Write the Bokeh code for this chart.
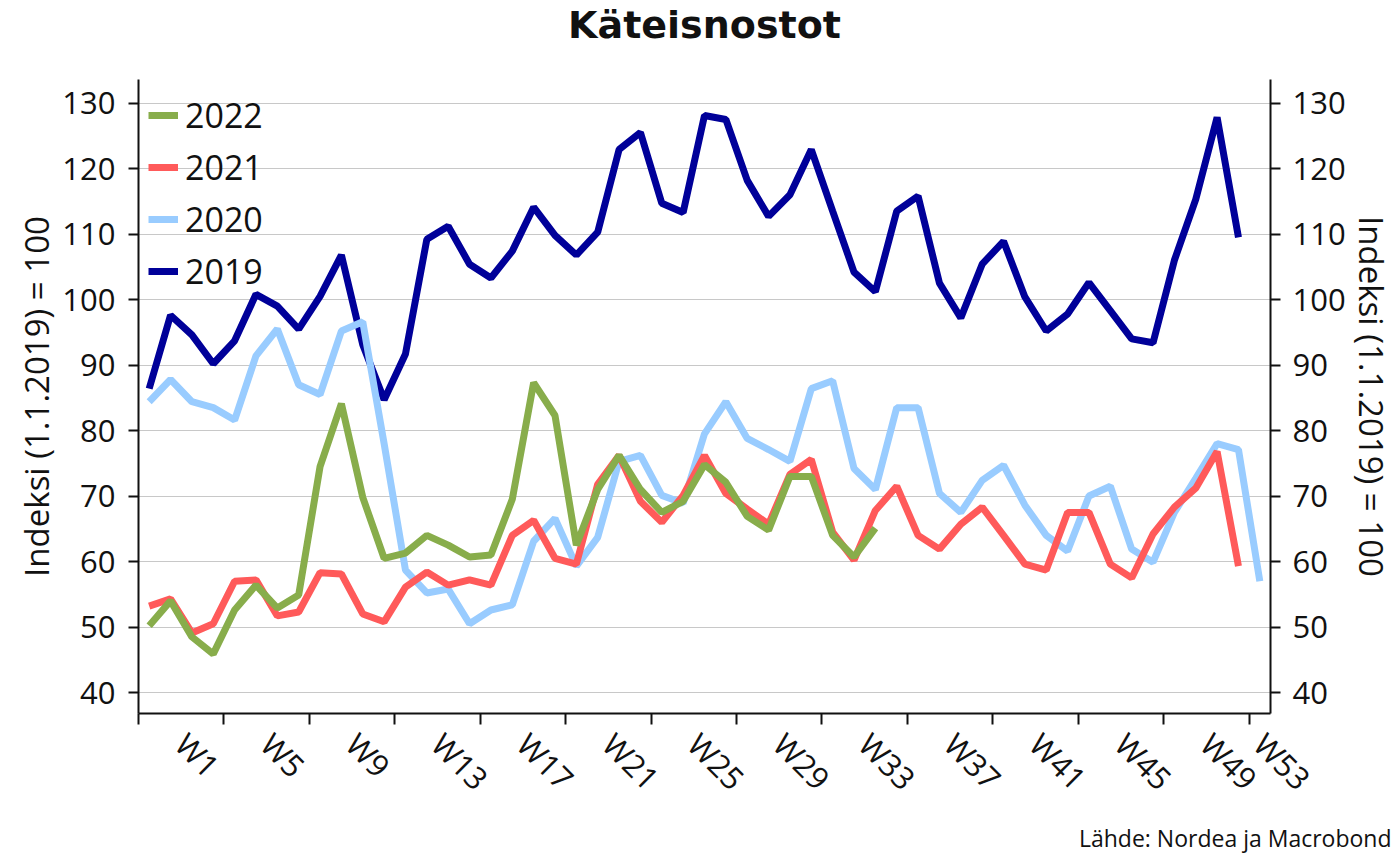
from bokeh.plotting import figure
from bokeh.models import Range1d, LinearAxis, FixedTicker, Legend, LegendItem, Title
from bokeh.embed import file_html
from bokeh.resources import INLINE

# ---- data (index, 1.1.2019 = 100), by ISO week ----
weeks_2019 = list(range(1, 53))
vals_2019 = [86.4, 97.6, 94.6, 90.2, 93.7, 100.8, 99.0, 95.5, 100.5, 106.8,
             93.1, 84.7, 91.7, 109.2, 111.2, 105.4, 103.3, 107.4, 114.1, 109.8,
             106.8, 110.3, 122.9, 125.5, 114.7, 113.3, 128.1, 127.5, 118.2, 112.7,
             116.0, 122.9, 113.5, 104.2, 101.2, 113.5, 115.8, 102.5, 97.2, 105.4,
             108.9, 100.4, 95.2, 97.8, 102.6, 98.3, 94.0, 93.4, 106.0, 115.3,
             127.8, 109.5]

weeks_2020 = list(range(1, 54))
vals_2020 = [84.4, 87.8, 84.4, 83.5, 81.6, 91.4, 95.5, 87.0, 85.5, 95.2,
             96.6, 78.0, 58.7, 55.2, 55.8, 50.5, 52.6, 53.4, 63.1, 66.6,
             59.3, 63.7, 75.3, 76.2, 70.1, 68.9, 79.5, 84.4, 78.8, 77.1,
             75.3, 86.4, 87.6, 74.2, 71.0, 83.5, 83.5, 70.4, 67.5, 72.4,
             74.7, 68.6, 64.0, 61.6, 70.0, 71.5, 61.9, 59.9, 67.5, 72.7,
             78.0, 77.1, 57.0]

weeks_2021 = list(range(1, 53))
vals_2021 = [53.2, 54.3, 49.1, 50.5, 57.0, 57.2, 51.7, 52.3, 58.3, 58.1,
             52.0, 50.8, 56.1, 58.4, 56.4, 57.2, 56.4, 64.0, 66.3, 60.5,
             59.6, 71.8, 76.2, 69.2, 66.0, 70.1, 76.2, 70.4, 68.0, 65.7,
             73.3, 75.6, 64.5, 60.2, 67.8, 71.5, 64.0, 61.9, 65.7, 68.3,
             64.0, 59.6, 58.7, 67.5, 67.5, 59.6, 57.5, 64.2, 68.3, 71.2,
             76.8, 59.3]

weeks_2022 = list(range(1, 36))
vals_2022 = [50.2, 54.0, 48.5, 45.9, 52.6, 56.4, 52.9, 54.9, 74.5, 84.1,
             69.8, 60.5, 61.3, 64.0, 62.5, 60.7, 61.0, 69.5, 87.3, 82.3,
             62.5, 71.0, 76.2, 71.0, 67.5, 69.2, 74.8, 72.1, 66.9, 64.8,
             73.0, 73.0, 64.0, 60.7, 65.1]

series_names = ["2019", "2020", "2021", "2022"]
series_colors = ["#000099", "#99CCFF", "#FF5A5A", "#88AD4B"]

y_ticks = [40, 50, 60, 70, 80, 90, 100, 110, 120, 130]
week_boundaries = [0.5 + 4 * k for k in range(14)]
week_label_pos = [2.5 + 4 * k for k in range(13)] + [53.0]
week_labels = ["W%d" % (1 + 4 * k) for k in range(14)]

title_text = "Käteisnostot"
source_text = "Lähde: Nordea ja Macrobond"
y_label = "Indeksi (1.1.2019) = 100"

FONT = "Open Sans"
TXT = "#111111"

p = figure(width=1397, height=856, x_range=Range1d(0.5, 53.5), y_range=Range1d(36.8, 133.6),
           output_backend="svg", toolbar_location=None,
           min_border_left=138, min_border_right=127, min_border_top=77, min_border_bottom=143)
p.outline_line_color = None
p.background_fill_color = "white"
p.border_fill_color = "white"

# grid
p.xgrid.visible = False
p.ygrid.grid_line_color = "#C8C8C8"
p.ygrid.grid_line_width = 1

# y axes
def style_y(ax, standoff, lab_standoff):
    ax.ticker = FixedTicker(ticks=y_ticks)
    ax.axis_label = y_label
    ax.axis_label_text_font = FONT
    ax.axis_label_text_font_size = "33px"
    ax.axis_label_text_font_style = "normal"
    ax.axis_label_text_color = TXT
    ax.axis_label_standoff = lab_standoff
    ax.major_label_text_font = FONT
    ax.major_label_text_font_size = "31px"
    ax.major_label_text_color = TXT
    ax.major_label_standoff = standoff
    ax.axis_line_color = "#111111"
    ax.axis_line_width = 2
    ax.major_tick_line_color = "#111111"
    ax.major_tick_line_width = 2
    ax.major_tick_out = 10
    ax.major_tick_in = 0
    ax.minor_tick_line_color = None

style_y(p.yaxis[0], 13, 0)
right_axis = LinearAxis()
style_y(right_axis, 12, 0)
p.add_layout(right_axis, "right")

# x axis: boundary ticks as minor ticks, labels on invisible major ticks
xa = p.xaxis[0]
xa.ticker = FixedTicker(ticks=week_label_pos, minor_ticks=week_boundaries)
xa.major_label_overrides = {float(pos): lab for pos, lab in zip(week_label_pos, week_labels)}
xa.major_label_orientation = -0.7853981633974483
xa.major_label_text_font = FONT
xa.major_label_text_font_size = "31px"
xa.major_label_text_color = TXT
xa.major_label_standoff = 14
xa.major_tick_line_color = None
xa.major_tick_out = 11
xa.major_tick_in = 0
xa.minor_tick_line_color = "#111111"
xa.minor_tick_line_width = 2
xa.minor_tick_out = 11
xa.minor_tick_in = 0
xa.axis_line_color = "#111111"
xa.axis_line_width = 2

# lines
data = [(weeks_2019, vals_2019), (weeks_2020, vals_2020), (weeks_2021, vals_2021), (weeks_2022, vals_2022)]
renderers = {}
for name, color, (wx, wy) in zip(series_names, series_colors, data):
    renderers[name] = p.line(wx, wy, line_color=color, line_width=7)

legend = Legend(items=[LegendItem(label=n, renderers=[renderers[n]]) for n in ["2022", "2021", "2020", "2019"]],
                location="top_left")
legend.background_fill_alpha = 0
legend.border_line_color = None
legend.label_text_font = FONT
legend.label_text_font_size = "34px"
legend.label_text_color = TXT
legend.glyph_width = 30
legend.glyph_height = 52
legend.spacing = 0
legend.padding = 0
legend.margin = 10
legend.label_standoff = 7
p.add_layout(legend)

# title: a thin spacer next to the frame, then the title itself
p.add_layout(Title(text=" ", text_font_size="1px", standoff=30), "above")
p.add_layout(Title(text=title_text, align="center", text_font="DejaVu Sans",
                   text_font_size="38px", text_font_style="bold", text_color=TXT,
                   standoff=0), "above")

# source note below the x axis, right-aligned near the page edge
p.add_layout(Title(text=source_text, align="right", text_font=FONT,
                   text_font_size="23px", text_font_style="normal", text_color=TXT,
                   offset=-121, standoff=6), "below")

open("out.html", "w").write(file_html(p, INLINE))
